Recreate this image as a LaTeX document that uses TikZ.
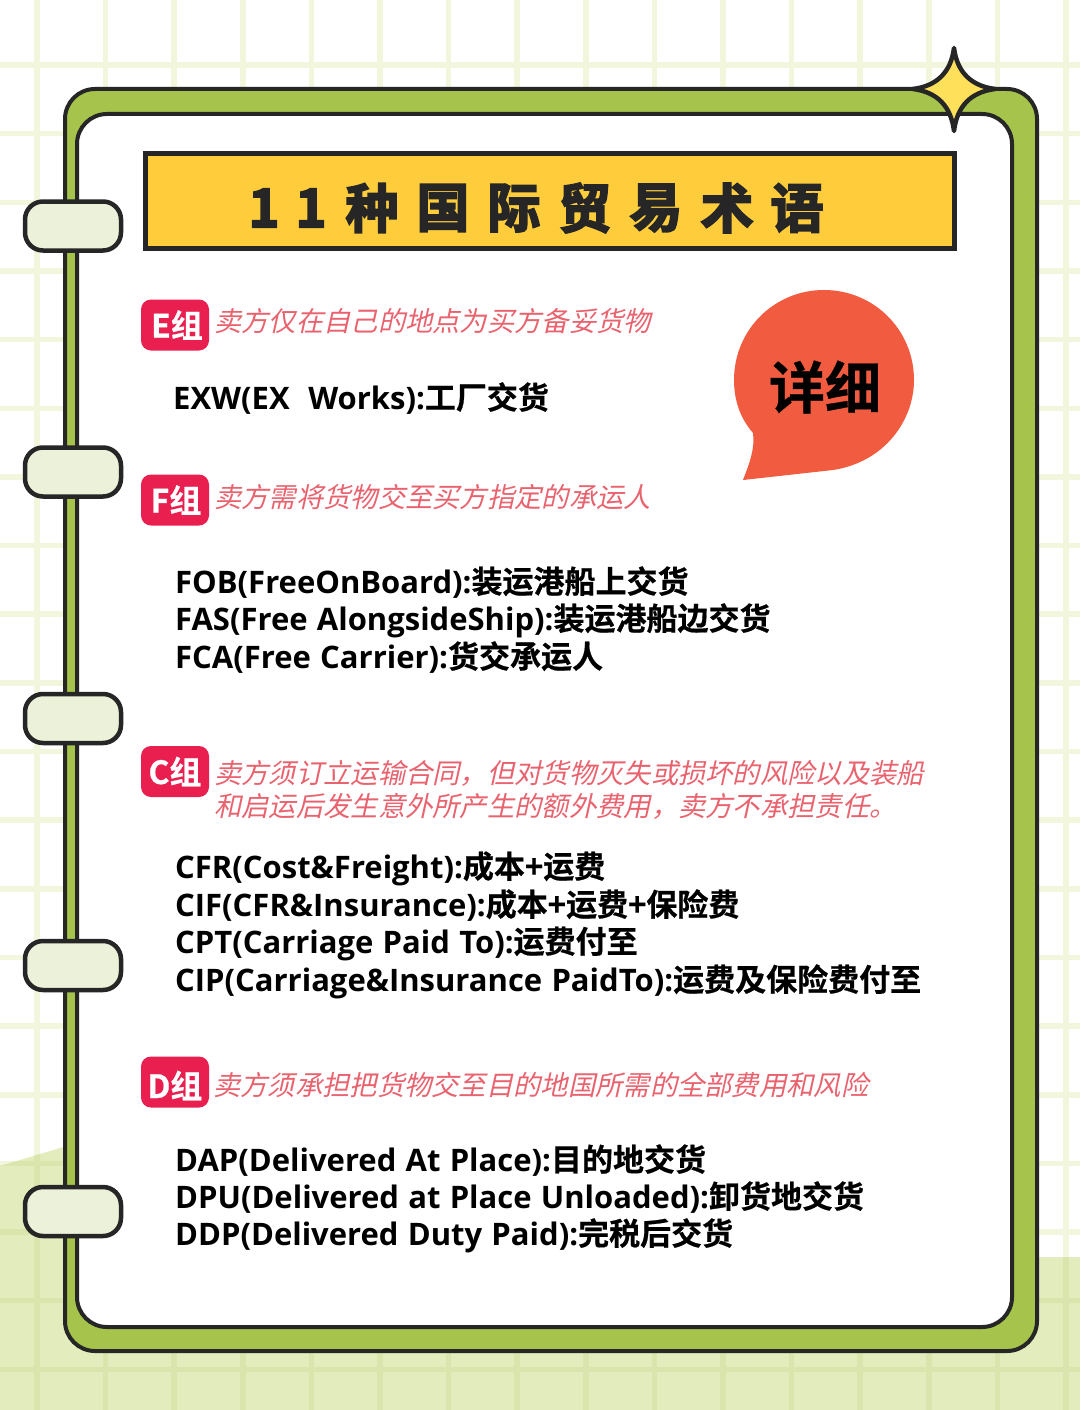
\documentclass[tikz,border=0pt]{standalone}
\usepackage{fontspec}
\setmainfont{Noto Sans CJK SC}
\newfontfamily\redfont[FakeSlant=0.22]{Noto Sans CJK SC}
\newfontfamily\termfont[WordSpace=1.15]{Open Sans}
\newfontfamily\cjkfont[FakeBold=0.6]{Noto Sans CJK SC Bold}
\newfontfamily\headfont[FakeBold=3.5]{Noto Sans CJK SC Bold}
\newcommand{\cjk}[1]{{\mdseries\cjkfont\fontsize{31}{31}\selectfont #1}}
\definecolor{gridline}{HTML}{F2F6DC}
\definecolor{hillgrid}{HTML}{D9E5AD}
\definecolor{hillgreen}{HTML}{E3ECBC}
\definecolor{framegreen}{HTML}{A6C44B}
\definecolor{inkline}{HTML}{262626}
\definecolor{ringfill}{HTML}{ECF1D9}
\definecolor{bannerfill}{HTML}{FFCD3C}
\definecolor{starfill}{HTML}{FFE05A}
\definecolor{badgefill}{HTML}{E91F50}
\definecolor{notered}{HTML}{E9636F}
\definecolor{bubblefill}{HTML}{F15B40}

\begin{document}
\begin{tikzpicture}[x=1pt,y=-1pt]
\tikzstyle{ring} = [draw=inkline,line width=4.5pt,fill=ringfill,rounded corners=18pt,minimum width=96pt,minimum height=49pt,inner sep=0pt]
\tikzstyle{badge} = [fill=badgefill,rounded corners=10pt,minimum width=68pt,minimum height=51pt,inner sep=0pt,text=white,font=\cjkfont\fontsize{32}{32}\selectfont]
\tikzstyle{note} = [anchor=west,inner sep=0pt,text=notered,font=\redfont\fontsize{27.3}{27.3}\selectfont]
\tikzstyle{term} = [anchor=base west,inner sep=0pt,text=black,font=\termfont\bfseries\fontsize{31}{31}\selectfont]
\tikzstyle{headchar} = [inner sep=0pt,text=inkline,font=\headfont\fontsize{53}{53}\selectfont]

\useasboundingbox (0,0) rectangle (1080,1410);
\fill[white] (0,0) rectangle (1080,1410);

\foreach \k in {0,...,15} {
\draw[gridline,line width=5.5pt] (37+68.6*\k,0) -- (37+68.6*\k,1410);
}
\foreach \k in {0,...,19} {
\draw[gridline,line width=5.5pt] (0,65+68.65*\k) -- (1080,65+68.65*\k);
}

\begin{scope}
\clip (0,1166) -- (70,1145) -- (500,1200) -- (1010,1257) -- (1080,1257) -- (1080,1410) -- (0,1410) -- cycle;
\fill[hillgreen] (0,1140) rectangle (1080,1410);
\foreach \k in {0,...,15} {
\draw[hillgrid,line width=5.5pt] (37+68.6*\k,1140) -- (37+68.6*\k,1410);
}
\foreach \k in {16,...,19} {
\draw[hillgrid,line width=5.5pt] (0,65+68.65*\k) -- (1080,65+68.65*\k);
}
\end{scope}

\draw[inkline,line width=4pt,fill=framegreen,rounded corners=30pt] (65,89) rectangle (1037,1351);
\draw[inkline,line width=4pt,fill=white,rounded corners=30pt] (77,114) rectangle (1012,1327);

\foreach \y [count=\i] in {226,472,718.5,965.5,1211.5} {
\node[ring] (ring\i) at (73,\y) {};
}

\draw[inkline,line width=4.5pt,line join=round,fill=starfill] (954,48) .. controls (957,72) and (971,86) .. (995,89) .. controls (971,92) and (957,106) .. (954,131) .. controls (951,106) and (937,92) .. (913,89) .. controls (937,86) and (951,72) .. (954,48) -- cycle;

\draw[inkline,line width=5pt,fill=bannerfill] (145,153) rectangle (954,248);
\foreach \x/\t [count=\i] in {264/1,311/1,372/种,443/国,514/际,585/贸,656/易,727/术,797/语} {
\node[headchar] (head\i) at (\x,208) {\t};
}

\fill[bubblefill] (743,480) .. controls (750,462) and (755,448) .. (753,433) .. controls (740,418) and (734,400) .. (734,380) .. controls (734,330) and (774,290) .. (824,290) .. controls (874,290) and (914,330) .. (914,380) .. controls (914,420) and (885,462) .. (833,470) -- cycle;
\node[inner sep=0pt,font=\cjkfont\fontsize{56}{56}\selectfont] (detail) at (825,387) {详细};

\node[badge] (egroup) at (175,325) {\hspace{4pt}\raisebox{1pt}{E组}};
\node[note] (enote) at (214,321) {卖方仅在自己的地点为买方备妥货物};
\node[term] (exw) at (173,409) {EXW(EX\ \ Works):\cjk{工厂交货}};

\node[badge] (fgroup) at (175,500) {\hspace{2pt}F组};
\node[note] (fnote) at (214,497) {卖方需将货物交至买方指定的承运人};
\node[term] (fob) at (175,593) {FOB(FreeOnBoard):\cjk{装运港船上交货}};
\node[term] (fas) at (175,630) {FAS(Free AlongsideShip):\cjk{装运港船边交货}};
\node[term] (fca) at (175,668) {FCA(Free Carrier):\cjk{货交承运人}};

\node[badge] (cgroup) at (175,771.5) {C组};
\node[note] (cnote) at (214,773) {卖方须订立运输合同\char"FF0C 但对货物灭失或损坏的风险以及装船};
\node[note] (cnotetwo) at (214,806) {和启运后发生意外所产生的额外费用\char"FF0C 卖方不承担责任。};
\node[term] (cfr) at (175,878) {CFR(Cost\&Freight):\cjk{成本+运费}};
\node[term] (cif) at (175,916) {CIF(CFR\&Insurance):\cjk{成本+运费+保险费}};
\node[term] (cpt) at (175,953) {CPT(Carriage Paid To):\cjk{运费付至}};
\node[term] (cip) at (175,991) {CIP(Carriage\&Insurance PaidTo):\cjk{运费及保险费付至}};

\node[badge] (dgroup) at (175,1082) {\raisebox{-16pt}[0pt][0pt]{D组}};
\node[note] (dnote) at (213,1085) {卖方须承担把货物交至目的地国所需的全部费用和风险};
\node[term] (dap) at (175,1171) {DAP(Delivered At Place):\cjk{目的地交货}};
\node[term] (dpu) at (175,1208) {DPU(Delivered at Place Unloaded):\cjk{卸货地交货}};
\node[term] (ddp) at (175,1245) {DDP(Delivered Duty Paid):\cjk{完税后交货}};

\end{tikzpicture}
\end{document}
